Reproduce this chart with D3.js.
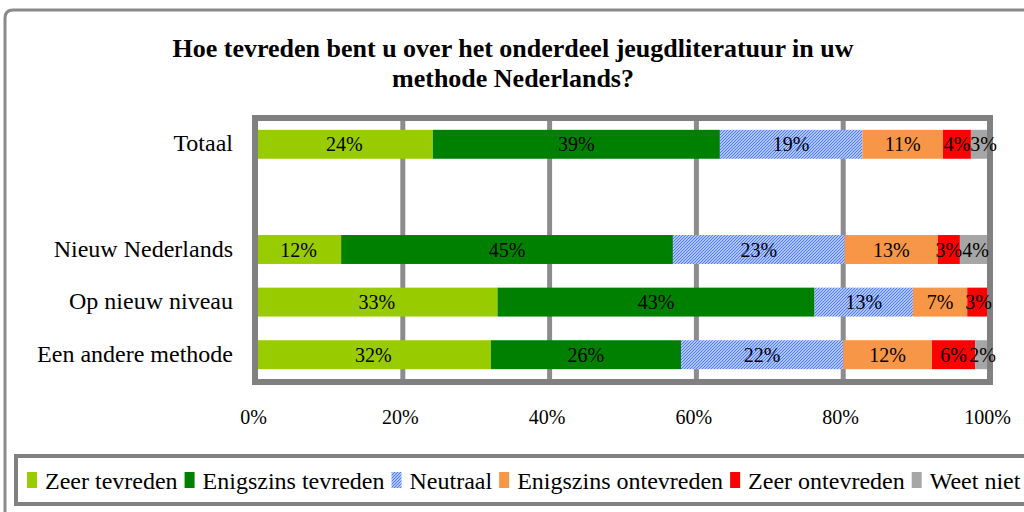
<!DOCTYPE html>
<html>
<head>
<meta charset="utf-8">
<script src="https://cdn.jsdelivr.net/npm/d3@7"></script>
<style>
  body { margin: 0; background: #fff; }
  svg text { font-family: "Liberation Serif", "Times New Roman", serif; fill: #000; }
</style>
</head>
<body>
<svg id="chart" width="1024" height="512"></svg>
<script>
// stacked 100% bars, satisfaction with youth literature per method

var categories = ["Totaal", "", "Nieuw Nederlands", "Op nieuw niveau", "Een andere methode"];
var seriesNames = ["Zeer tevreden", "Enigszins tevreden", "Neutraal",
                   "Enigszins ontevreden", "Zeer ontevreden", "Weet niet"];
// percentages per category, in the order of seriesNames
var totaal       = [24.1, 39.1, 19.4, 11.0, 3.8, 2.6];
var leeg         = [0, 0, 0, 0, 0, 0];
var nieuwNed     = [11.6, 45.2, 23.4, 12.7, 3.0, 4.1];
var opNieuw      = [32.9, 43.2, 13.4, 7.4, 3.1, 0];
var andere       = [32.0, 25.9, 22.1, 12.1, 5.9, 2.0];
var tickValues   = [0, 20, 40, 60, 80, 100];
var titleLines   = ["Hoe tevreden bent u over het onderdeel jeugdliteratuur in uw",
                    "methode Nederlands?"];

var colors = ["#99cc00", "#008000", "url(#hatch)", "#f79646", "#ff0000", "#a6a6a6"];

var rows = [totaal, leeg, nieuwNed, opNieuw, andere].map(function(vals, i) {
  var r = { cat: categories[i] };
  seriesNames.forEach(function(s, j) { r[s] = vals[j]; });
  return r;
});

var svg = d3.select("#chart");
var defs = svg.append("defs");

// fine blue diagonal hatch for Neutraal
var pat = defs.append("pattern")
  .attr("id", "hatch")
  .attr("patternUnits", "userSpaceOnUse")
  .attr("width", 3).attr("height", 3);
pat.append("rect").attr("width", 3).attr("height", 3).attr("fill", "#ffffff");
pat.append("path").attr("d", "M-1,1 l2,-2 M0,3 l3,-3 M2,4 l2,-2")
  .attr("stroke", "#4d7cff").attr("stroke-width", 1.3);

// outer chart border
svg.append("path")
  .attr("d", "M5,512 L5,18 Q5,10 13,10 L1024,10")
  .attr("fill", "none").attr("stroke", "#8a8a8a").attr("stroke-width", 3);

// title
svg.append("g").selectAll("text")
  .data(titleLines).join("text")
  .attr("x", 513)
  .attr("y", function(d, i) { return 57 + i * 30; })
  .attr("text-anchor", "middle")
  .attr("font-size", 26).attr("font-weight", "bold")
  .text(function(d) { return d; });

var plot = { left: 255, right: 990, top: 118, bottom: 382 };

var x = d3.scaleLinear().domain([0, 100]).range([plot.left + 1, plot.right]);
var y = d3.scaleBand().domain(categories).range([plot.top, plot.bottom - 1]).paddingInner(0.45).paddingOuter(0.225);

// gridlines
svg.append("g").selectAll("line")
  .data(tickValues.slice(1, -1)).join("line")
  .attr("x1", function(d) { return x(d); }).attr("x2", function(d) { return x(d); })
  .attr("y1", plot.top).attr("y2", plot.bottom)
  .attr("stroke", "#8c8c8c").attr("stroke-width", 5);

var stacked = d3.stack().keys(seriesNames)(rows);

var layers = svg.append("g").selectAll("g")
  .data(stacked).join("g")
  .attr("fill", function(d, i) { return colors[i]; });

layers.selectAll("rect")
  .data(function(d) { return d.filter(function(p) { return p[1] - p[0] > 0; }); })
  .join("rect")
  .attr("x", function(d) { return x(d[0]); })
  .attr("width", function(d) { return x(d[1]) - x(d[0]); })
  .attr("y", function(d) { return y(d.data.cat); })
  .attr("height", y.bandwidth());

// plot frame over the bars
svg.append("rect")
  .attr("x", plot.left).attr("y", plot.top)
  .attr("width", plot.right - plot.left).attr("height", plot.bottom - plot.top)
  .attr("fill", "none").attr("stroke", "#808080").attr("stroke-width", 6);

// value labels
var labels = [];
stacked.forEach(function(layer) {
  layer.forEach(function(p) {
    if (p[1] - p[0] > 0) labels.push({ mid: (p[0] + p[1]) / 2, cat: p.data.cat, v: p[1] - p[0] });
  });
});
var labelText = svg.append("g").selectAll("text")
  .data(labels).join("text")
  .attr("x", function(d) { return x(d.mid); })
  .attr("y", function(d) { return y(d.cat) + y.bandwidth() / 2 + 7; })
  .attr("text-anchor", "middle")
  .attr("font-size", 20)
  .text(function(d) { return Math.round(d.v) + "%"; });

// nudge small labels right so neighbours just touch instead of overlapping
var lastRight = {};
labelText.each(function(d) {
  var w = this.getComputedTextLength(), cx = +this.getAttribute("x");
  var prev = lastRight[d.cat];
  if (prev !== undefined && cx - w / 2 < prev) {
    cx = prev + w / 2;
    this.setAttribute("x", cx);
  }
  lastRight[d.cat] = cx + w / 2;
});

// category labels
svg.append("g").selectAll("text")
  .data(categories.filter(function(c) { return c !== ""; })).join("text")
  .attr("x", 233)
  .attr("y", function(d) { return y(d) + y.bandwidth() / 2 + 7; })
  .attr("text-anchor", "end")
  .attr("font-size", 24)
  .text(function(d) { return d; });

// x axis labels
var xAxis = d3.axisBottom(x).tickValues(tickValues).tickSize(0).tickPadding(0)
  .tickFormat(function(d) { return d + "%"; });
var ax = svg.append("g").attr("transform", "translate(-3," + 410 + ")").call(xAxis);
ax.select(".domain").remove();
ax.selectAll("text").attr("font-size", 20).attr("font-family", "Liberation Serif").attr("fill", "#000");

// legend
svg.append("rect")
  .attr("x", 16).attr("y", 456).attr("width", 1020).attr("height", 48)
  .attr("fill", "#fff").attr("stroke", "#808080").attr("stroke-width", 4);

var lx = 27;
var legend = svg.append("g");
seriesNames.forEach(function(name, i) {
  legend.append("rect")
    .attr("x", lx).attr("y", 472).attr("width", 10).attr("height", 16)
    .attr("fill", colors[i]);
  var t = legend.append("text")
    .attr("x", lx + 18).attr("y", 489)
    .attr("font-size", 24)
    .text(name);
  lx += 18 + t.node().getComputedTextLength() + 7;
});
</script>
</body>
</html>
